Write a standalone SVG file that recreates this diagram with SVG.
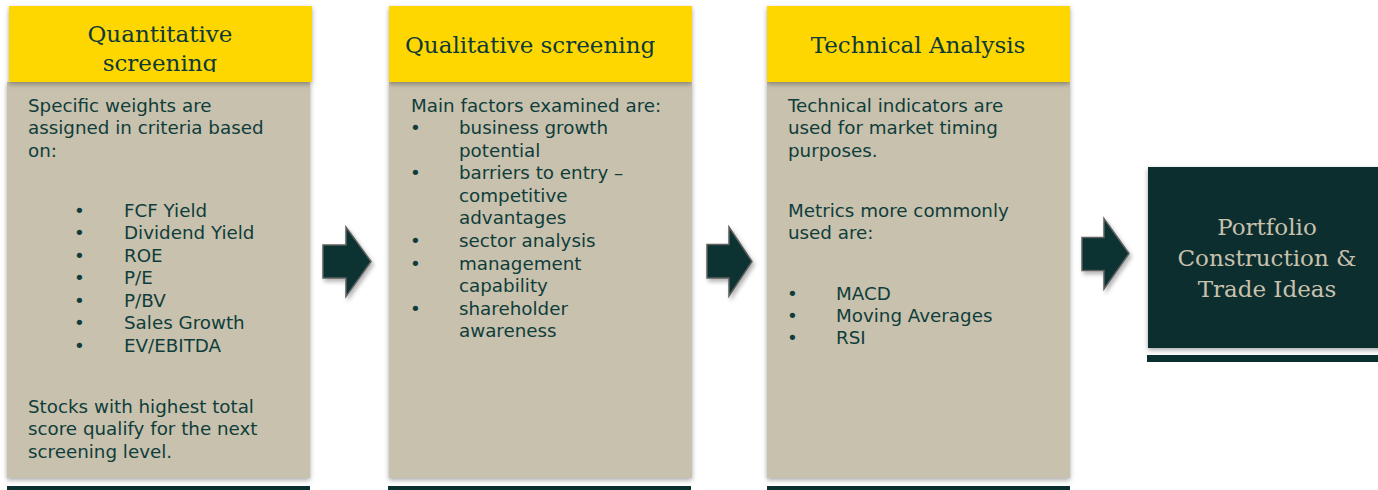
<svg xmlns="http://www.w3.org/2000/svg" width="1378" height="490" viewBox="0 0 1378 490">
<style>
.body{fill:#c8c1ad}
.hdr{fill:#ffd700}
.dark{fill:#0b2f2f}
.ht{font-family:"DejaVu Serif","Liberation Serif",serif;font-size:23px;fill:#0d3a38}
.bt{font-family:"DejaVu Sans","Liberation Sans",sans-serif;font-size:18.3px;fill:#0f3d3b}
.pt{font-family:"DejaVu Serif","Liberation Serif",serif;font-size:23px;fill:#c8c1ad}
.arrow{fill:#073131;stroke:#5e5e5e;stroke-width:1.5;stroke-linejoin:miter}
</style>
<defs>
<filter id="sh" x="-10%" y="-10%" width="120%" height="120%">
<feDropShadow dx="0" dy="2" stdDeviation="2.5" flood-color="#000" flood-opacity="0.35"/>
</filter>
<filter id="ash" x="-30%" y="-30%" width="160%" height="160%">
<feDropShadow dx="2" dy="3" stdDeviation="2" flood-color="#000" flood-opacity="0.3"/>
</filter>
<clipPath id="c1"><rect x="9" y="6" width="303" height="66"/></clipPath>
</defs>

<g id="node-quantitative">
<rect class="dark" x="7" y="486" width="303" height="6"/>
<rect class="body" x="7" y="82" width="303" height="396" filter="url(#sh)"/>
<rect class="hdr" x="9" y="6" width="303" height="76" filter="url(#sh)"/>
<g clip-path="url(#c1)">
<text class="ht" x="160" y="41.5" text-anchor="middle">Quantitative</text>
<text class="ht" x="160" y="71" text-anchor="middle">screening</text>
</g>
<text class="bt" x="28" y="111.5">Specific weights are</text>
<text class="bt" x="28" y="134">assigned in criteria based</text>
<text class="bt" x="28" y="156.5">on:</text>
<g>
<text class="bt" x="74" y="216.5">•</text><text class="bt" x="124" y="216.5">FCF Yield</text>
<text class="bt" x="74" y="239">•</text><text class="bt" x="124" y="239">Dividend Yield</text>
<text class="bt" x="74" y="261.5">•</text><text class="bt" x="124" y="261.5">ROE</text>
<text class="bt" x="74" y="284">•</text><text class="bt" x="124" y="284">P/E</text>
<text class="bt" x="74" y="306.5">•</text><text class="bt" x="124" y="306.5">P/BV</text>
<text class="bt" x="74" y="329">•</text><text class="bt" x="124" y="329">Sales Growth</text>
<text class="bt" x="74" y="351.5">•</text><text class="bt" x="124" y="351.5">EV/EBITDA</text>
</g>
<text class="bt" x="28" y="412.5">Stocks with highest total</text>
<text class="bt" x="28" y="435">score qualify for the next</text>
<text class="bt" x="28" y="457.5">screening level.</text>
</g>

<g id="node-qualitative">
<rect class="dark" x="388" y="486" width="303" height="6"/>
<rect class="body" x="389" y="82" width="303" height="396" filter="url(#sh)"/>
<rect class="hdr" x="389" y="6" width="303" height="76" filter="url(#sh)"/>
<text class="ht" x="405" y="53">Qualitative screening</text>
<text class="bt" x="411" y="111.5">Main factors examined are:</text>
<text class="bt" x="410" y="134">•</text><text class="bt" x="459" y="134">business growth</text>
<text class="bt" x="459" y="156.6">potential</text>
<text class="bt" x="410" y="179.2">•</text><text class="bt" x="459" y="179.2">barriers to entry –</text>
<text class="bt" x="459" y="201.8">competitive</text>
<text class="bt" x="459" y="224.4">advantages</text>
<text class="bt" x="410" y="247">•</text><text class="bt" x="459" y="247">sector analysis</text>
<text class="bt" x="410" y="269.6">•</text><text class="bt" x="459" y="269.6">management</text>
<text class="bt" x="459" y="292.2">capability</text>
<text class="bt" x="410" y="314.8">•</text><text class="bt" x="459" y="314.8">shareholder</text>
<text class="bt" x="459" y="337.4">awareness</text>
</g>

<g id="node-technical">
<rect class="dark" x="767" y="486" width="303" height="6"/>
<rect class="body" x="767" y="82" width="303" height="396" filter="url(#sh)"/>
<rect class="hdr" x="767" y="6" width="303" height="76" filter="url(#sh)"/>
<text class="ht" x="918" y="53" text-anchor="middle">Technical Analysis</text>
<text class="bt" x="788" y="111.5">Technical indicators are</text>
<text class="bt" x="788" y="134">used for market timing</text>
<text class="bt" x="788" y="156.5">purposes.</text>
<text class="bt" x="788" y="216.5">Metrics more commonly</text>
<text class="bt" x="788" y="239">used are:</text>
<text class="bt" x="787" y="300">•</text><text class="bt" x="836" y="300">MACD</text>
<text class="bt" x="787" y="322">•</text><text class="bt" x="836" y="322">Moving Averages</text>
<text class="bt" x="787" y="344.3">•</text><text class="bt" x="836" y="344.3">RSI</text>
</g>

<g id="node-portfolio">
<rect class="dark" x="1147" y="355" width="240" height="7"/>
<rect class="dark" x="1148" y="167" width="240" height="181" filter="url(#sh)"/>
<text class="pt" x="1267" y="235" text-anchor="middle">Portfolio</text>
<text class="pt" x="1267" y="266" text-anchor="middle">Construction &amp;</text>
<text class="pt" x="1267" y="296.5" text-anchor="middle">Trade Ideas</text>
</g>

<g id="connectors">
<polygon class="arrow" filter="url(#ash)" points="323,245 346,245 346,227 371,261.5 346,296.5 346,278 323,278"/>
<polygon class="arrow" filter="url(#ash)" points="707,244.5 729,244.5 729,227 752,261.5 729,296 729,278 707,278"/>
<polygon class="arrow" filter="url(#ash)" points="1082,237.5 1104,237.5 1104,218.5 1129,253.5 1104,289 1104,270.5 1082,270.5"/>
</g>
</svg>
